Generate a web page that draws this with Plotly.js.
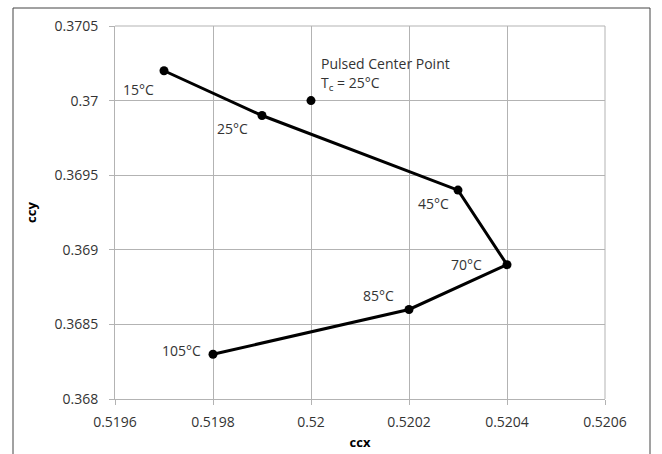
<!DOCTYPE html>
<html>
<head>
<meta charset="utf-8">
<script src="https://cdn.plot.ly/plotly-3.0.1.min.js"></script>
<style>html,body{margin:0;padding:0;background:#fff;}#chart{width:662px;height:454px;}</style>
</head>
<body>
<div id="chart"></div>
<script>
// Data
const ccx = [0.5197, 0.5199, 0.5203, 0.5204, 0.5202, 0.5198];
const ccy = [0.3702, 0.3699, 0.3694, 0.3689, 0.3686, 0.3683];
const tempLabels = ['15°C', '25°C', '45°C', '70°C', '85°C', '105°C'];
const centerX = [0.5200];
const centerY = [0.3700];
const centerLabel1 = 'Pulsed Center Point';
const centerLabel2 = 'T<sub>c</sub> = 25°C';
const xTickVals = [0.5196, 0.5198, 0.5200, 0.5202, 0.5204, 0.5206];
const xTickText = ['0.5196', '0.5198', '0.52', '0.5202', '0.5204', '0.5206'];
const yTickVals = [0.3680, 0.3685, 0.3690, 0.3695, 0.3700, 0.3705];
const yTickText = ['0.368', '0.3685', '0.369', '0.3695', '0.37', '0.3705'];

// label offsets in pixels (style only)
const labelShift = [[-26, -19], [-30, -13], [-25, -13], [-41, 0], [-31, 14], [-32, 4]];

const font = {family: '"Open Sans", Lato, sans-serif', size: 14, color: '#333'};

const traces = [
  {x: ccx, y: ccy, mode: 'lines+markers', type: 'scatter',
   line: {color: '#000', width: 3}, marker: {color: '#000', size: 9}, hoverinfo: 'none'},
  {x: centerX, y: centerY, mode: 'markers', type: 'scatter',
   marker: {color: '#000', size: 9}, hoverinfo: 'none'}
];

const annotations = tempLabels.map((t, i) => ({
  x: ccx[i], y: ccy[i], xref: 'x', yref: 'y', text: t, showarrow: false,
  xanchor: 'center', yanchor: 'middle', xshift: labelShift[i][0], yshift: labelShift[i][1], font: font
}));
annotations.push({x: centerX[0], y: centerY[0], xref: 'x', yref: 'y', text: centerLabel1, showarrow: false,
  xanchor: 'left', yanchor: 'middle', xshift: 8, yshift: 37, font: font});
annotations.push({x: centerX[0], y: centerY[0], xref: 'x', yref: 'y', text: centerLabel2, showarrow: false,
  xanchor: 'left', yanchor: 'middle', xshift: 8, yshift: 17, font: font});

const L = 115, R = 605, T = 26, B = 399;
const pw = R - L, ph = B - T;
const titleFont = {family: '"Open Sans", Lato, sans-serif', size: 13, color: '#000'};
const layout = {
  width: 662, height: 454,
  margin: {l: L, r: 662 - R, t: T, b: 454 - B, pad: 0},
  paper_bgcolor: '#fff', plot_bgcolor: '#fff',
  showlegend: false,
  font: font,
  xaxis: {
    range: [0.5196, 0.5206], tickvals: xTickVals, ticktext: xTickText,
    showgrid: true, gridcolor: '#b3b3b3', gridwidth: 1,
    showline: true, linecolor: '#b3b3b3', linewidth: 1, mirror: false,
    ticks: 'outside', ticklen: 5, tickcolor: '#b3b3b3', zeroline: false,
    tickfont: font, ticklabelstandoff: 5,
    title: {text: '<b>ccx</b>', font: titleFont, standoff: 8}
  },
  yaxis: {
    range: [0.3680, 0.3705], tickvals: yTickVals, ticktext: yTickText,
    showgrid: true, gridcolor: '#b3b3b3', gridwidth: 1,
    showline: true, linecolor: '#b3b3b3', linewidth: 1,
    ticks: 'outside', ticklen: 5, tickcolor: '#b3b3b3', zeroline: false,
    tickfont: font, ticklabelstandoff: 8,
    title: {text: '<b>ccy</b>', font: titleFont, standoff: 14}
  },
  shapes: [
    {type: 'line', xref: 'paper', yref: 'paper', x0: 1, x1: 1, y0: 0, y1: 1, line: {color: '#b3b3b3', width: 1}},
    {type: 'line', xref: 'paper', yref: 'paper', x0: 0, x1: 1, y0: 1, y1: 1, line: {color: '#b3b3b3', width: 1}},
    {type: 'rect', xref: 'paper', yref: 'paper',
     x0: (13 - L) / pw, x1: (650 - L) / pw, y0: (B - 470) / ph, y1: (B - 8) / ph,
     line: {color: '#444', width: 1}, fillcolor: 'rgba(0,0,0,0)'}
  ],
  annotations: annotations
};

Plotly.newPlot('chart', traces, layout, {displayModeBar: false, staticPlot: true});
</script>
</body>
</html>
